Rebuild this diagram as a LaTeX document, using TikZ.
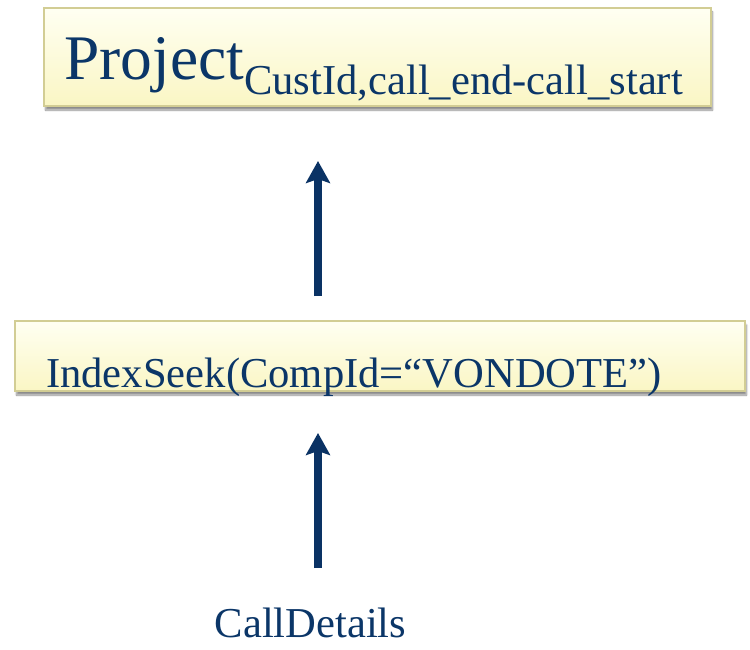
\documentclass[tikz,border=0pt]{standalone}
\usepackage{fontspec}
\setmainfont{Liberation Serif}
\usetikzlibrary{arrows.meta,shadows.blur}

\definecolor{ink}{RGB}{11,54,104}
\definecolor{arrowblue}{RGB}{10,50,100}
\definecolor{boxedge}{RGB}{210,205,148}
\definecolor{boxtop}{RGB}{255,255,242}
\definecolor{boxbottom}{RGB}{250,246,196}

\tikzset{
  opbox/.style={draw=boxedge, line width=1.5pt, top color=boxtop, bottom color=boxbottom,
    inner sep=0pt, outer sep=0pt,
    blur shadow={shadow xshift=1.5pt, shadow yshift=-4pt, shadow blur steps=8, shadow opacity=45}},
  optext/.style={text=ink, inner sep=0pt, anchor=base west},
  flow/.style={draw=arrowblue, line width=8pt,
    -{Stealth[length=22pt, width=24pt, inset=4pt]}}
}

\begin{document}
\begin{tikzpicture}[x=1pt, y=-1pt]
  \useasboundingbox (0,0) rectangle (750,650);

  % operator boxes
  \node[opbox, minimum width=667pt, minimum height=98pt] (proj) at (377.5,57) {};
  \node[opbox, minimum width=730pt, minimum height=70pt] (idx) at (380,356) {};

  % operator labels
  \node[optext] (projlbl) at (64,80)
    {\fontsize{63.5}{70}\selectfont Project\raisebox{-15pt}{\fontsize{42.6}{50}\selectfont CustId,call\_end-call\_start}};
  \node[optext] (idxlbl) at (46,387)
    {\fontsize{42.6}{50}\selectfont IndexSeek(CompId=“VONDOTE”)};
  \node[optext, anchor=base] (cd) at (310.5,637)
    {\fontsize{42.6}{50}\selectfont CallDetails};

  % data flow arrows
  \coordinate (axis) at (318,0);
  \coordinate (cdtop) at (318,568);
  \draw[flow, shorten <=25pt, shorten >=55pt] (axis |- idx.north) -- (axis |- proj.south);
  \draw[flow, shorten >=42pt] (cdtop) -- (axis |- idx.south);
\end{tikzpicture}
\end{document}
